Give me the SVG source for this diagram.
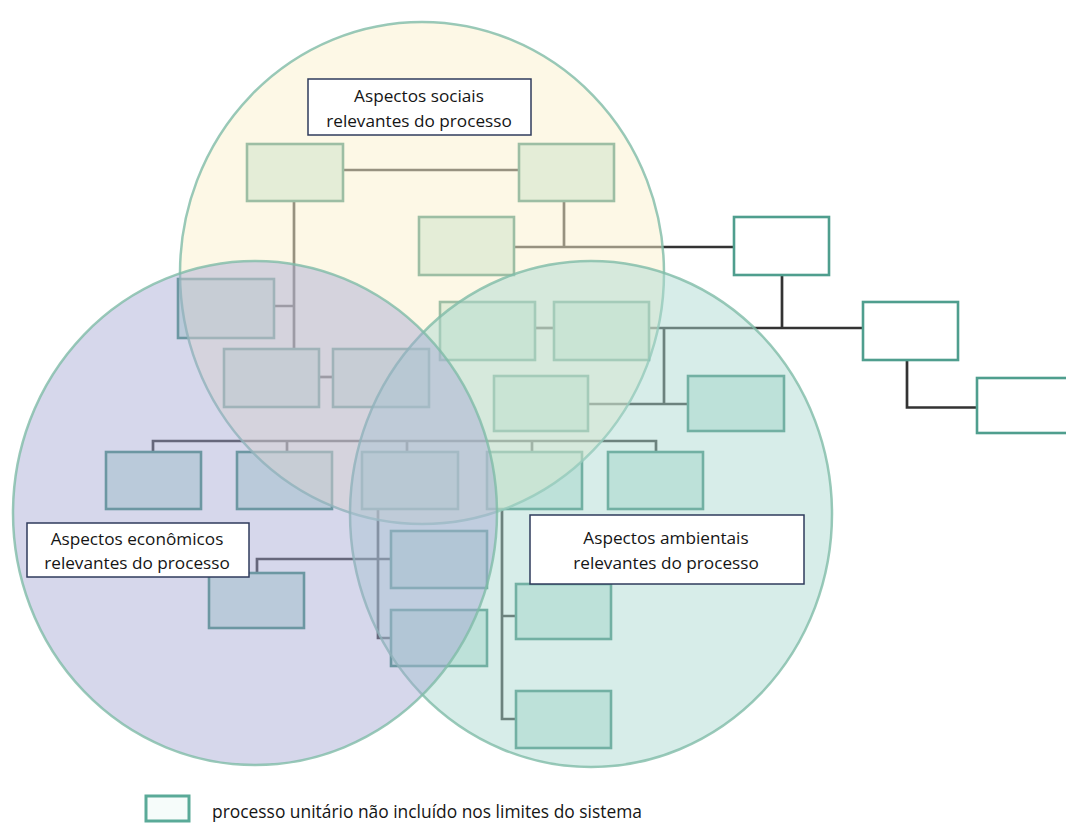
<svg xmlns="http://www.w3.org/2000/svg" width="1066" height="823" viewBox="0 0 1066 823">
<style>
.pin{fill:#cde8e0;stroke:#3f8a7a;stroke-width:2.6}
.pout{fill:#ffffff;stroke:#4f9e8e;stroke-width:2.6}
.c{fill:none;stroke:#333333;stroke-width:2.7}
.lbl{fill:#ffffff;stroke:#2f3b5c;stroke-width:1.5}
.t{font-family:"Open Sans","Liberation Sans",sans-serif;font-size:17.2px;fill:#151515;text-anchor:middle}
.venn{stroke:#7fbca8;stroke-width:2.5;stroke-opacity:0.8}
</style>
<rect width="1066" height="823" fill="#ffffff"/>
<g id="connectors">
<path class="c" d="M343 170H519"/>
<path class="c" d="M564 201V247M514 247H734"/>
<path class="c" d="M782 275V328M649 328H863"/>
<path class="c" d="M907 360V407.5H978"/>
<path class="c" d="M294 201V349M274 306H294"/>
<path class="c" d="M319 377H333"/>
<path class="c" d="M153 452V441H656V452M287 441V452M407 441V452M532 441V452"/>
<path class="c" d="M378 509V638H391"/>
<path class="c" d="M257 573V559H391"/>
<path class="c" d="M502 509V719H516M502 616H516"/>
<path class="c" d="M535 328H554"/>
<path class="c" d="M664 328V404M588 404H688"/>
</g>
<g id="n-b1"><rect class="pin" x="247" y="144" width="96" height="57"/></g>
<g id="n-b2"><rect class="pin" x="519" y="144" width="95" height="57"/></g>
<g id="n-b3"><rect class="pin" x="419" y="217" width="95" height="58"/></g>
<g id="n-b4"><rect class="pin" x="178" y="279" width="96" height="59"/></g>
<g id="n-b5"><rect class="pin" x="224" y="349" width="95" height="58"/></g>
<g id="n-b6"><rect class="pin" x="333" y="349" width="96" height="58"/></g>
<g id="n-g1"><rect class="pin" x="440" y="302" width="95" height="58"/></g>
<g id="n-g2"><rect class="pin" x="554" y="302" width="95" height="58"/></g>
<g id="n-g3"><rect class="pin" x="494" y="376" width="94" height="55"/></g>
<g id="n-g4"><rect class="pin" x="688" y="376" width="96" height="55"/></g>
<g id="n-r1"><rect class="pin" x="106" y="452" width="95" height="57"/></g>
<g id="n-r2"><rect class="pin" x="237" y="452" width="95" height="57"/></g>
<g id="n-r3"><rect class="pin" x="362" y="452" width="96" height="57"/></g>
<g id="n-r4"><rect class="pin" x="487" y="452" width="95" height="57"/></g>
<g id="n-r5"><rect class="pin" x="608" y="452" width="95" height="57"/></g>
<g id="n-e1"><rect class="pin" x="391" y="531" width="96" height="57"/></g>
<g id="n-e2"><rect class="pin" x="209" y="573" width="95" height="55"/></g>
<g id="n-e3"><rect class="pin" x="391" y="610" width="96" height="56"/></g>
<g id="n-f1"><rect class="pin" x="516" y="584" width="95" height="55"/></g>
<g id="n-f2"><rect class="pin" x="516" y="691" width="95" height="57"/></g>
<g id="venn">
<ellipse class="venn" cx="422" cy="273" rx="242" ry="251" fill="#fbf1cd" fill-opacity="0.5"/>
<ellipse class="venn" cx="591" cy="514" rx="241" ry="253" fill="#abd9d1" fill-opacity="0.48"/>
<ellipse class="venn" cx="255" cy="513" rx="242" ry="252" fill="#a3a6d2" fill-opacity="0.45"/>
</g>
<g id="n-w1"><rect class="pout" x="734" y="217" width="95" height="58"/></g>
<g id="n-w2"><rect class="pout" x="863" y="302" width="95" height="58"/></g>
<g id="n-w3"><rect class="pout" x="977" y="378" width="100" height="55"/></g>
<g id="label-social">
<rect class="lbl" x="308" y="79" width="223" height="56"/>
<text class="t" x="419" y="102">Aspectos sociais</text>
<text class="t" x="419" y="127">relevantes do processo</text>
</g>
<g id="label-econ">
<rect class="lbl" x="27" y="523" width="222" height="54"/>
<text class="t" x="137" y="545">Aspectos econômicos</text>
<text class="t" x="137" y="569">relevantes do processo</text>
</g>
<g id="label-env">
<rect class="lbl" x="530" y="515" width="274" height="69"/>
<text class="t" x="666" y="544">Aspectos ambientais</text>
<text class="t" x="666" y="569">relevantes do processo</text>
</g>
<g id="legend">
<rect x="146" y="796" width="43" height="25" fill="#f6fcfa" stroke="#5aaa98" stroke-width="3"/>
<text x="212" y="818" font-family="'Open Sans','Liberation Sans',sans-serif" font-size="17.4" fill="#151515">processo unitário não incluído nos limites do sistema</text>
</g>
</svg>
